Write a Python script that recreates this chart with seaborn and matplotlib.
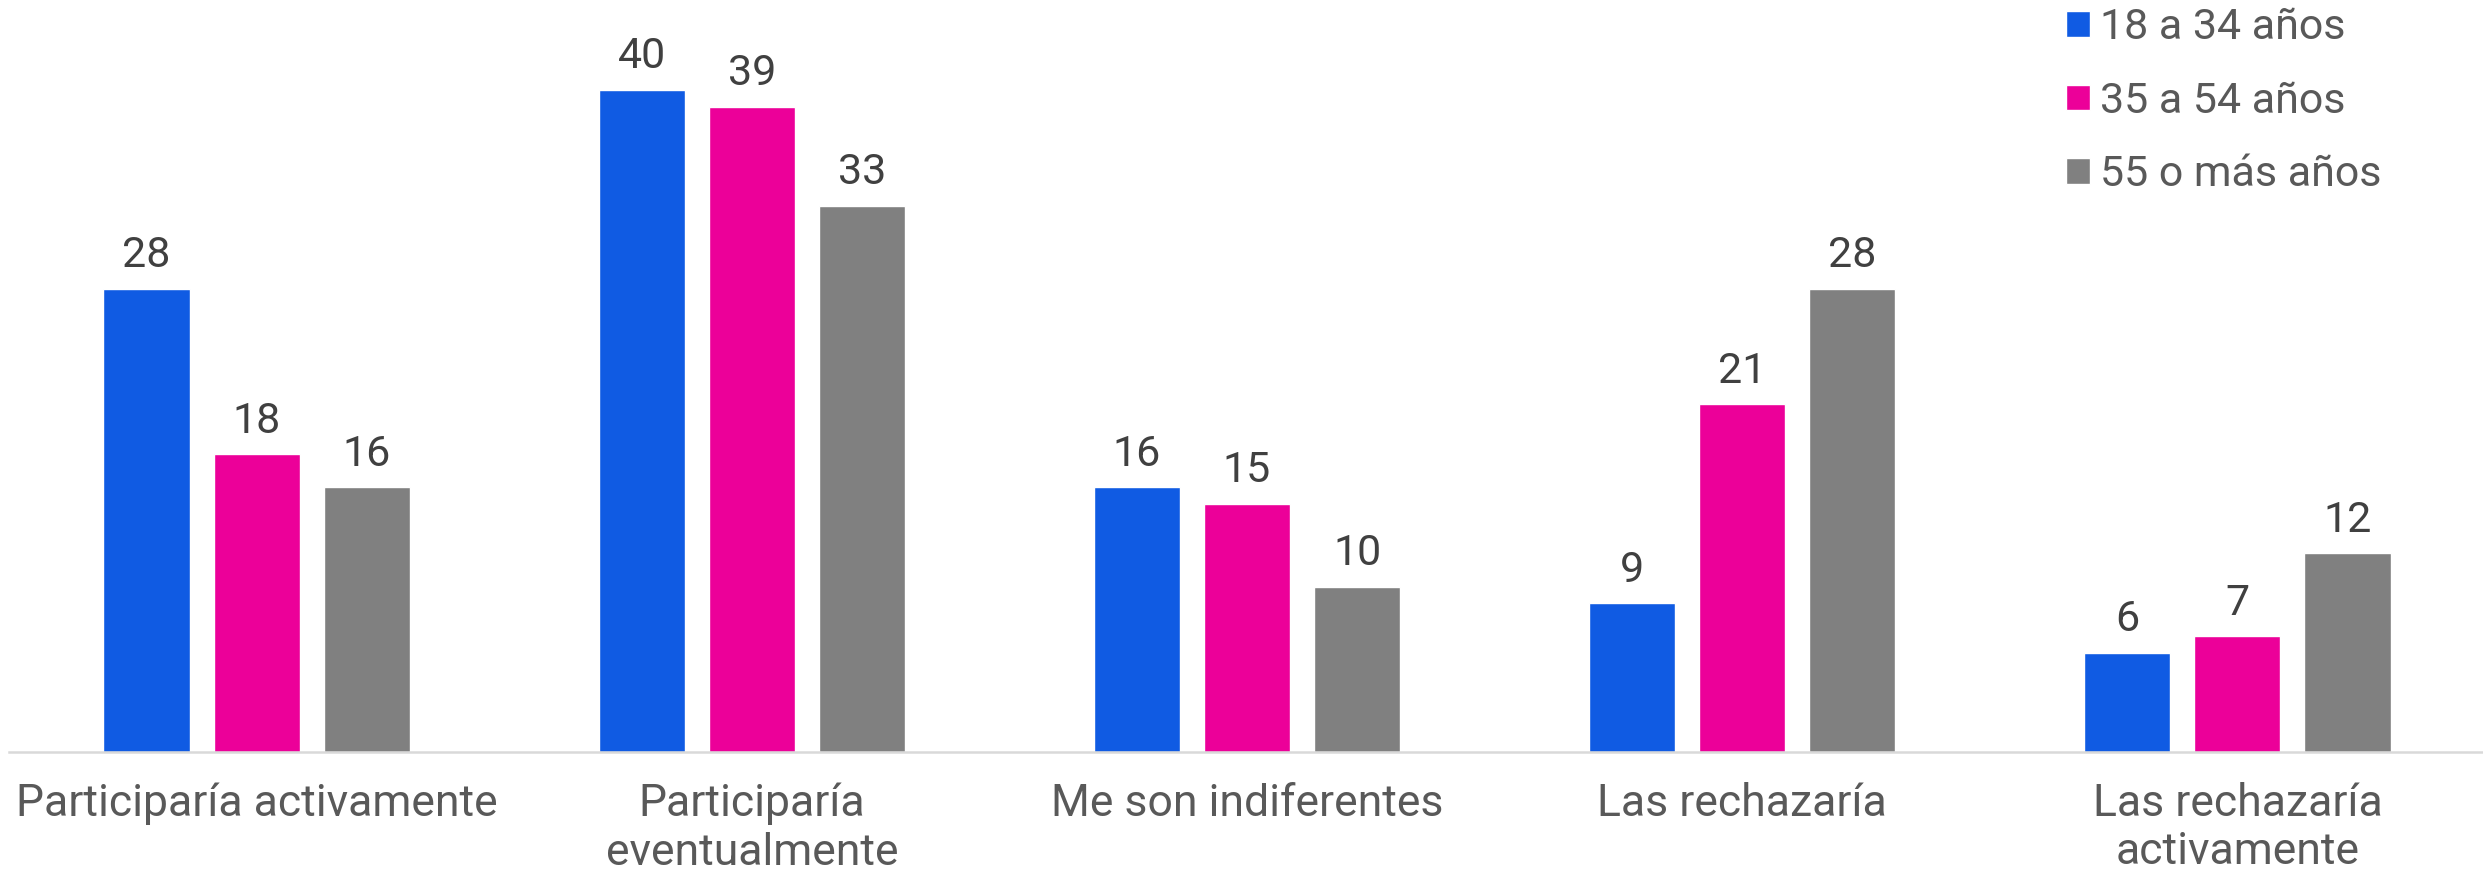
import matplotlib
matplotlib.use("Agg")
import matplotlib.pyplot as plt
import seaborn as sns
import pandas as pd

# Survey answers by age group (percent)
categories = [
    "Participaría activamente",
    "Participaría\neventualmente",
    "Me son indiferentes",
    "Las rechazaría",
    "Las rechazaría\nactivamente",
]
age_groups = ["18 a 34 años", "35 a 54 años", "55 o más años"]
vals_18_34 = [28, 40, 16, 9, 6]
vals_35_54 = [18, 39, 15, 21, 7]
vals_55_plus = [16, 33, 10, 28, 12]
colors = ["#105BE3", "#EC0099", "#808080"]

rows = []
for grp, vals in zip(age_groups, [vals_18_34, vals_35_54, vals_55_plus]):
    for cat, v in zip(categories, vals):
        rows.append({"respuesta": cat, "grupo": grp, "valor": v})
df = pd.DataFrame(rows)

sns.set_theme(style="white")
plt.rcParams["font.family"] = ["Roboto", "DejaVu Sans"]

W, H = 2483, 873
fig = plt.figure(figsize=(W / 100, H / 100), dpi=100)
base_y = 752
ax = fig.add_axes([9 / W, (H - base_y) / H, (2485 - 9) / W, base_y / H])

sns.barplot(
    data=df, x="respuesta", y="valor", hue="grupo",
    order=categories, hue_order=age_groups, palette=colors,
    width=0.667, gap=0.218, ax=ax, saturation=1, errorbar=None,
)

ax.set_xlim(-0.5, 4.5)
ax.set_ylim(0, base_y / 16.55)
ax.set_xlabel("")
ax.set_ylabel("")
ax.set_yticks([])
for side in ["top", "left", "right"]:
    ax.spines[side].set_visible(False)
ax.spines["bottom"].set_color("#D9D9D9")
ax.spines["bottom"].set_linewidth(1.8)
ax.tick_params(axis="x", length=0, pad=22, labelsize=32, labelcolor="#595959")
for lbl in ax.get_xticklabels():
    lbl.set_linespacing(1.2)

for cont in ax.containers:
    ax.bar_label(cont, fmt="%d", padding=9, fontsize=31, color="#404040")

handles, labels = ax.get_legend_handles_labels()
ax.get_legend().remove()
fig.legend(
    handles, labels, loc="upper left", bbox_to_anchor=(2066 / W, 1 - 7 / H),
    frameon=False, fontsize=31, labelcolor="#595959",
    handlelength=0.55, handleheight=0.55, handletextpad=0.25,
    labelspacing=0.76, borderpad=0, borderaxespad=0,
)

fig.savefig("out.png", dpi=100)
